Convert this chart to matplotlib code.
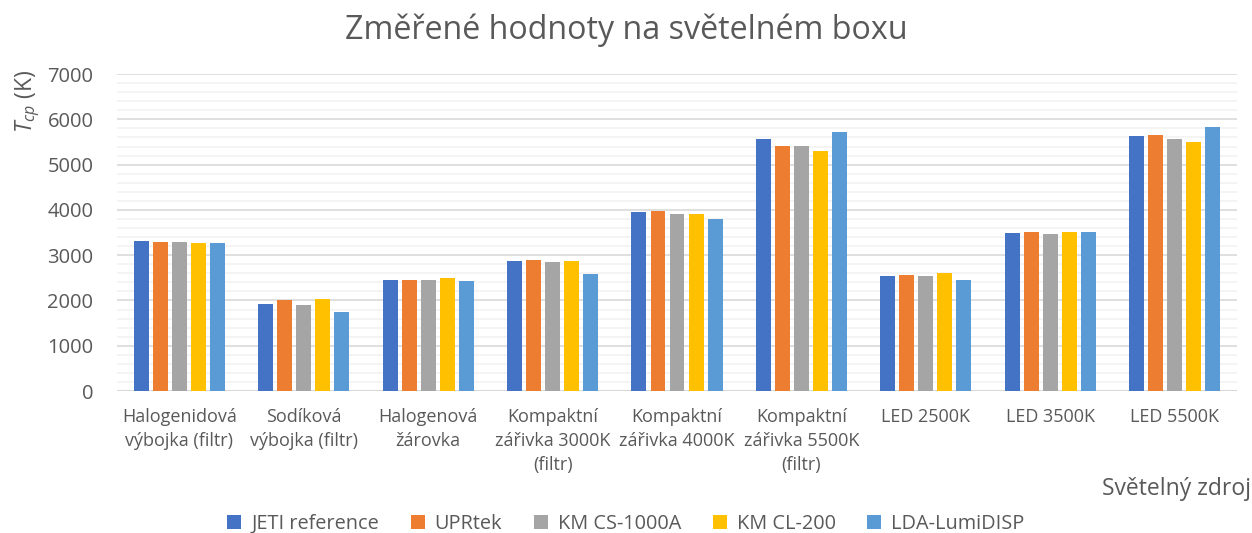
import matplotlib.pyplot as plt
import numpy as np
from matplotlib.ticker import MultipleLocator

categories = [
    "Halogenidová\nvýbojka (filtr)",
    "Sodíková\nvýbojka (filtr)",
    "Halogenová\nžárovka",
    "Kompaktní\nzářivka 3000K\n(filtr)",
    "Kompaktní\nzářivka 4000K",
    "Kompaktní\nzářivka 5500K\n(filtr)",
    "LED 2500K",
    "LED 3500K",
    "LED 5500K",
]

series_names = ["JETI reference", "UPRtek", "KM CS-1000A", "KM CL-200", "LDA-LumiDISP"]

jeti = [3310, 1925, 2460, 2880, 3955, 5570, 2540, 3495, 5630]
uprtek = [3290, 2010, 2460, 2895, 3985, 5410, 2565, 3520, 5645]
km_cs1000a = [3290, 1900, 2455, 2840, 3900, 5415, 2535, 3470, 5565]
km_cl200 = [3275, 2040, 2500, 2865, 3900, 5305, 2610, 3505, 5490]
lda_lumidisp = [3275, 1740, 2440, 2595, 3800, 5725, 2455, 3520, 5835]

colors = ["#4472C4", "#ED7D31", "#A5A5A5", "#FFC000", "#5B9BD5"]

plt.rcParams['font.family'] = ['Open Sans', 'DejaVu Sans']
plt.rcParams['mathtext.fontset'] = 'custom'
plt.rcParams['mathtext.rm'] = 'Open Sans'
plt.rcParams['mathtext.it'] = 'Open Sans:italic'
text_color = "#595959"

fig = plt.figure(figsize=(12.52, 5.33), dpi=100)
ax = fig.add_axes([0.0935, 0.2664, 0.8945, 0.5946])

data = [jeti, uprtek, km_cs1000a, km_cl200, lda_lumidisp]
x = np.arange(len(categories))
step = 0.153
width = 0.12
for i, (name, vals, c) in enumerate(zip(series_names, data, colors)):
    ax.bar(x + (i - 2) * step, vals, width=width, color=c, label=name, zorder=3)

ax.set_xlim(-0.5, len(categories) - 0.5)
ax.set_ylim(0, 7000)
ax.yaxis.set_major_locator(MultipleLocator(1000))
ax.yaxis.set_minor_locator(MultipleLocator(200))
ax.grid(which='major', axis='y', color="#D9D9D9", linewidth=1.2, zorder=1)
ax.grid(which='minor', axis='y', color="#F2F2F2", linewidth=1.2, zorder=0)
for s in ax.spines.values():
    s.set_visible(False)
ax.axhline(0, color="#D9D9D9", linewidth=1.5, zorder=2)

ax.set_xticks(x)
ax.set_xticklabels(categories, fontsize=13, color=text_color, linespacing=1.45)
ax.tick_params(axis='x', length=0, pad=12)
ax.tick_params(axis='y', which='both', length=0, pad=17, labelsize=14.5, labelcolor=text_color)

ax.set_ylabel(r"$T_{cp}$ (K)", fontsize=16.5, color=text_color)
ax.yaxis.set_label_coords(-0.067, 0.915)

fig.text(0.5, 0.943, "Změřené hodnoty na světelném boxu", ha='center', va='center',
         fontsize=23.2, color=text_color)
fig.text(0.999, 0.083, "Světelný zdroj", ha='right', va='center',
         fontsize=16.5, color=text_color)

fig.legend(loc='center', bbox_to_anchor=(0.5, 0.017), ncol=5, frameon=False,
           fontsize=14.3, handlelength=0.7, handleheight=0.7, columnspacing=1.6,
           handletextpad=0.5, labelcolor=text_color)

fig.savefig("out.png", dpi=100)
